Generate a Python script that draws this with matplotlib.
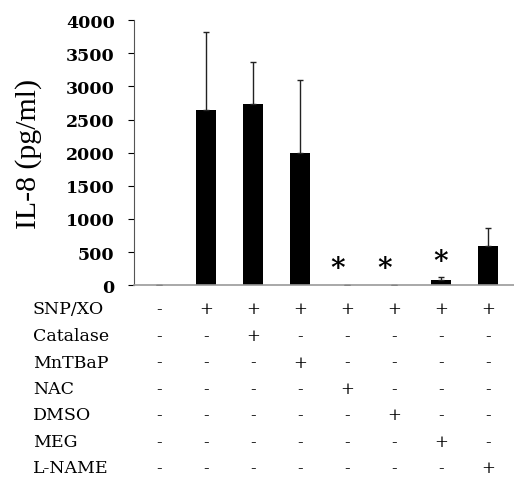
import numpy as np
import matplotlib
matplotlib.use('Agg')
import matplotlib.pyplot as plt
import matplotlib.transforms as mtransforms

# IL-8 values (pg/ml)
values = [10, 2640, 2730, 1990, 10, 10, 75, 590]
err_up = [0, 1180, 635, 1100, 0, 0, 45, 270]
star = [False, False, False, False, True, True, True, False]

row_names = ['SNP/XO', 'Catalase', 'MnTBaP', 'NAC', 'DMSO', 'MEG', 'L-NAME']
row_signs = [
    '-+++++++',
    '--+-----',
    '---+----',
    '----+---',
    '-----+--',
    '------+-',
    '-------+',
]

plt.rcParams['font.family'] = ['Liberation Serif', 'DejaVu Serif']
wide = ['DejaVu Serif']  # source picture is stretched sideways, wider face fits better

fig = plt.figure(figsize=(5.14, 4.81), dpi=100)
ax = fig.add_axes([0.261, 0.405, 0.739, 0.551])

x = np.arange(len(values))
ax.bar(x, values, width=0.43, color='black')
ax.errorbar(x, values, yerr=[np.zeros(len(values)), err_up], fmt='none',
            ecolor='#222222', elinewidth=1, capsize=2.5, capthick=1)

for i in range(len(values)):
    if star[i]:
        dx = -0.2 if values[i] < 50 else 0.0
        ax.text(x[i] + dx, values[i] + err_up[i] + 40, '*', ha='center', va='bottom',
                fontsize=20, fontweight='bold', family=wide)

ax.set_xlim(-0.53, 7.55)
ax.set_ylim(0, 4000)
ax.set_yticks(np.arange(0, 4001, 500))
ax.tick_params(axis='y', direction='out', length=4, width=0.8, pad=10)
for lbl in ax.get_yticklabels():
    lbl.set_fontweight('bold')
    lbl.set_family(wide)
    lbl.set_fontsize(12.5)
ax.set_xticks([])
ax.set_ylabel('IL-8 (pg/ml)', fontsize=21.5, labelpad=17)

ax.spines['top'].set_visible(False)
ax.spines['right'].set_visible(False)
ax.spines['left'].set_color('#555555')
ax.spines['bottom'].set_color('#999999')
ax.spines['bottom'].set_linewidth(1.2)

# treatment table under the axis
trans = mtransforms.blended_transform_factory(ax.transData, fig.transFigure)
row_y0 = 1 - 310 / 481
row_step = 26.5 / 481
for r, name in enumerate(row_names):
    yy = row_y0 - r * row_step
    fig.text(33 / 514, yy, name, ha='left', va='center', fontsize=12.5, family=wide)
    for i, s in enumerate(row_signs[r]):
        ax.text(x[i], yy, s, transform=trans, ha='center', va='center',
                fontsize=12, family=wide, clip_on=False)

plt.savefig('out.png', dpi=100)
